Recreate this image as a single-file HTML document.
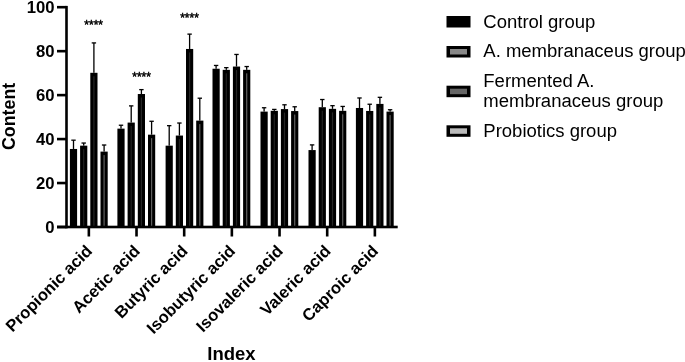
<!DOCTYPE html>
<html><head><meta charset="utf-8"><title>chart</title>
<style>
html,body{margin:0;padding:0;background:#fff;}
body{width:685px;height:362px;position:relative;overflow:hidden;font-family:"Liberation Sans",sans-serif;}
text{font-family:"Liberation Sans",sans-serif;fill:#000;}
.b{font-weight:bold;}
.r{font-weight:normal;}
</style></head><body>
<svg width="685" height="362" viewBox="0 0 685 362" style="position:absolute;left:0;top:0;filter:blur(0.45px)">
<rect width="685" height="362" fill="#fff"/>
<rect x="72.85" y="140.18" width="1.3" height="8.79" fill="#000"/>
<rect x="71.30" y="139.53" width="4.4" height="1.3" fill="#000"/>
<rect x="69.90" y="148.97" width="7.2" height="78.03" fill="#000"/>
<rect x="83.05" y="143.04" width="1.3" height="2.64" fill="#000"/>
<rect x="81.50" y="142.39" width="4.4" height="1.3" fill="#000"/>
<rect x="80.10" y="145.67" width="7.2" height="81.33" fill="#000"/>
<rect x="83.10" y="149.17" width="1.20" height="76.83" fill="#222"/>
<rect x="93.25" y="42.92" width="1.3" height="29.89" fill="#000"/>
<rect x="91.70" y="42.27" width="4.4" height="1.3" fill="#000"/>
<rect x="90.30" y="72.81" width="7.2" height="154.19" fill="#000"/>
<rect x="93.30" y="76.31" width="1.20" height="149.69" fill="#262626"/>
<rect x="103.45" y="145.01" width="1.3" height="6.59" fill="#000"/>
<rect x="101.90" y="144.36" width="4.4" height="1.3" fill="#000"/>
<rect x="100.50" y="151.61" width="7.2" height="75.39" fill="#000"/>
<rect x="103.50" y="155.11" width="1.20" height="70.89" fill="#606060"/>
<rect x="120.35" y="125.23" width="1.3" height="3.41" fill="#000"/>
<rect x="118.80" y="124.58" width="4.4" height="1.3" fill="#000"/>
<rect x="117.40" y="128.64" width="7.2" height="98.36" fill="#000"/>
<rect x="130.55" y="105.89" width="1.3" height="16.70" fill="#000"/>
<rect x="129.00" y="105.24" width="4.4" height="1.3" fill="#000"/>
<rect x="127.60" y="122.59" width="7.2" height="104.41" fill="#000"/>
<rect x="130.60" y="126.09" width="1.20" height="99.91" fill="#222"/>
<rect x="140.75" y="89.62" width="1.3" height="4.40" fill="#000"/>
<rect x="139.20" y="88.97" width="4.4" height="1.3" fill="#000"/>
<rect x="137.80" y="94.02" width="7.2" height="132.98" fill="#000"/>
<rect x="140.80" y="97.52" width="1.20" height="128.48" fill="#262626"/>
<rect x="150.95" y="121.28" width="1.3" height="13.41" fill="#000"/>
<rect x="149.40" y="120.63" width="4.4" height="1.3" fill="#000"/>
<rect x="148.00" y="134.68" width="7.2" height="92.32" fill="#000"/>
<rect x="151.00" y="138.18" width="1.20" height="87.82" fill="#606060"/>
<rect x="168.55" y="125.67" width="1.3" height="20.00" fill="#000"/>
<rect x="167.00" y="125.02" width="4.4" height="1.3" fill="#000"/>
<rect x="165.60" y="145.67" width="7.2" height="81.33" fill="#000"/>
<rect x="178.75" y="123.03" width="1.3" height="12.53" fill="#000"/>
<rect x="177.20" y="122.38" width="4.4" height="1.3" fill="#000"/>
<rect x="175.80" y="135.56" width="7.2" height="91.44" fill="#000"/>
<rect x="178.80" y="139.06" width="1.20" height="86.94" fill="#222"/>
<rect x="188.95" y="34.13" width="1.3" height="14.84" fill="#000"/>
<rect x="187.40" y="33.48" width="4.4" height="1.3" fill="#000"/>
<rect x="186.00" y="48.96" width="7.2" height="178.04" fill="#000"/>
<rect x="189.00" y="52.46" width="1.20" height="173.54" fill="#262626"/>
<rect x="199.15" y="98.20" width="1.3" height="22.42" fill="#000"/>
<rect x="197.60" y="97.55" width="4.4" height="1.3" fill="#000"/>
<rect x="196.20" y="120.62" width="7.2" height="106.38" fill="#000"/>
<rect x="199.20" y="124.12" width="1.20" height="101.88" fill="#606060"/>
<rect x="215.45" y="65.45" width="1.3" height="3.30" fill="#000"/>
<rect x="213.90" y="64.80" width="4.4" height="1.3" fill="#000"/>
<rect x="212.50" y="68.74" width="7.2" height="158.26" fill="#000"/>
<rect x="225.65" y="67.65" width="1.3" height="2.20" fill="#000"/>
<rect x="224.10" y="67.00" width="4.4" height="1.3" fill="#000"/>
<rect x="222.70" y="69.84" width="7.2" height="157.16" fill="#000"/>
<rect x="225.70" y="73.34" width="1.20" height="152.66" fill="#222"/>
<rect x="235.85" y="54.46" width="1.3" height="12.09" fill="#000"/>
<rect x="234.30" y="53.81" width="4.4" height="1.3" fill="#000"/>
<rect x="232.90" y="66.55" width="7.2" height="160.45" fill="#000"/>
<rect x="235.90" y="70.05" width="1.20" height="155.95" fill="#262626"/>
<rect x="246.05" y="66.55" width="1.3" height="3.30" fill="#000"/>
<rect x="244.50" y="65.90" width="4.4" height="1.3" fill="#000"/>
<rect x="243.10" y="69.84" width="7.2" height="157.16" fill="#000"/>
<rect x="246.10" y="73.34" width="1.20" height="152.66" fill="#606060"/>
<rect x="263.45" y="107.76" width="1.3" height="3.85" fill="#000"/>
<rect x="261.90" y="107.11" width="4.4" height="1.3" fill="#000"/>
<rect x="260.50" y="111.61" width="7.2" height="115.39" fill="#000"/>
<rect x="273.65" y="109.41" width="1.3" height="1.43" fill="#000"/>
<rect x="272.10" y="108.76" width="4.4" height="1.3" fill="#000"/>
<rect x="270.70" y="110.84" width="7.2" height="116.16" fill="#000"/>
<rect x="273.70" y="114.34" width="1.20" height="111.66" fill="#222"/>
<rect x="283.85" y="104.79" width="1.3" height="4.29" fill="#000"/>
<rect x="282.30" y="104.14" width="4.4" height="1.3" fill="#000"/>
<rect x="280.90" y="109.08" width="7.2" height="117.92" fill="#000"/>
<rect x="283.90" y="112.58" width="1.20" height="113.42" fill="#262626"/>
<rect x="294.05" y="106.77" width="1.3" height="4.29" fill="#000"/>
<rect x="292.50" y="106.12" width="4.4" height="1.3" fill="#000"/>
<rect x="291.10" y="111.06" width="7.2" height="115.94" fill="#000"/>
<rect x="294.10" y="114.56" width="1.20" height="111.44" fill="#606060"/>
<rect x="311.45" y="144.90" width="1.3" height="5.17" fill="#000"/>
<rect x="309.90" y="144.25" width="4.4" height="1.3" fill="#000"/>
<rect x="308.50" y="150.07" width="7.2" height="76.93" fill="#000"/>
<rect x="321.65" y="99.52" width="1.3" height="7.69" fill="#000"/>
<rect x="320.10" y="98.87" width="4.4" height="1.3" fill="#000"/>
<rect x="318.70" y="107.21" width="7.2" height="119.79" fill="#000"/>
<rect x="321.70" y="110.71" width="1.20" height="115.29" fill="#222"/>
<rect x="331.85" y="105.67" width="1.3" height="3.19" fill="#000"/>
<rect x="330.30" y="105.02" width="4.4" height="1.3" fill="#000"/>
<rect x="328.90" y="108.86" width="7.2" height="118.14" fill="#000"/>
<rect x="331.90" y="112.36" width="1.20" height="113.64" fill="#262626"/>
<rect x="342.05" y="106.44" width="1.3" height="4.40" fill="#000"/>
<rect x="340.50" y="105.79" width="4.4" height="1.3" fill="#000"/>
<rect x="339.10" y="110.84" width="7.2" height="116.16" fill="#000"/>
<rect x="342.10" y="114.34" width="1.20" height="111.66" fill="#606060"/>
<rect x="358.85" y="97.98" width="1.3" height="10.00" fill="#000"/>
<rect x="357.30" y="97.33" width="4.4" height="1.3" fill="#000"/>
<rect x="355.90" y="107.98" width="7.2" height="119.02" fill="#000"/>
<rect x="369.05" y="104.24" width="1.3" height="6.70" fill="#000"/>
<rect x="367.50" y="103.59" width="4.4" height="1.3" fill="#000"/>
<rect x="366.10" y="110.95" width="7.2" height="116.05" fill="#000"/>
<rect x="369.10" y="114.45" width="1.20" height="111.55" fill="#222"/>
<rect x="379.25" y="97.32" width="1.3" height="6.59" fill="#000"/>
<rect x="377.70" y="96.67" width="4.4" height="1.3" fill="#000"/>
<rect x="376.30" y="103.91" width="7.2" height="123.09" fill="#000"/>
<rect x="379.30" y="107.41" width="1.20" height="118.59" fill="#262626"/>
<rect x="389.45" y="109.74" width="1.3" height="1.87" fill="#000"/>
<rect x="387.90" y="109.09" width="4.4" height="1.3" fill="#000"/>
<rect x="386.50" y="111.61" width="7.2" height="115.39" fill="#000"/>
<rect x="389.50" y="115.11" width="1.20" height="110.89" fill="#606060"/>
<rect x="65.2" y="5.90" width="2.6" height="222.40" fill="#000"/>
<rect x="57" y="225.7" width="340.7" height="2.6" fill="#000"/>
<rect x="57" y="225.70" width="9.5" height="2.6" fill="#000"/>
<text x="54.6" y="232.90" text-anchor="end" class="b" font-size="16.7">0</text>
<rect x="57" y="181.74" width="9.5" height="2.6" fill="#000"/>
<text x="54.6" y="188.94" text-anchor="end" class="b" font-size="16.7">20</text>
<rect x="57" y="137.78" width="9.5" height="2.6" fill="#000"/>
<text x="54.6" y="144.98" text-anchor="end" class="b" font-size="16.7">40</text>
<rect x="57" y="93.82" width="9.5" height="2.6" fill="#000"/>
<text x="54.6" y="101.02" text-anchor="end" class="b" font-size="16.7">60</text>
<rect x="57" y="49.86" width="9.5" height="2.6" fill="#000"/>
<text x="54.6" y="57.06" text-anchor="end" class="b" font-size="16.7">80</text>
<rect x="57" y="5.90" width="9.5" height="2.6" fill="#000"/>
<text x="54.6" y="13.10" text-anchor="end" class="b" font-size="16.7">100</text>
<rect x="87.55" y="227.0" width="2.6" height="9.5" fill="#000"/>
<text transform="translate(93.25,252.0) rotate(-45)" text-anchor="end" class="b" font-size="16.6">Propionic acid</text>
<rect x="135.22" y="227.0" width="2.6" height="9.5" fill="#000"/>
<text transform="translate(140.92,252.0) rotate(-45)" text-anchor="end" class="b" font-size="16.6">Acetic acid</text>
<rect x="182.89" y="227.0" width="2.6" height="9.5" fill="#000"/>
<text transform="translate(188.59,252.0) rotate(-45)" text-anchor="end" class="b" font-size="16.6">Butyric acid</text>
<rect x="230.56" y="227.0" width="2.6" height="9.5" fill="#000"/>
<text transform="translate(236.26,252.0) rotate(-45)" text-anchor="end" class="b" font-size="16.6">Isobutyric acid</text>
<rect x="278.23" y="227.0" width="2.6" height="9.5" fill="#000"/>
<text transform="translate(283.93,252.0) rotate(-45)" text-anchor="end" class="b" font-size="16.6">Isovaleric acid</text>
<rect x="325.90" y="227.0" width="2.6" height="9.5" fill="#000"/>
<text transform="translate(331.60,252.0) rotate(-45)" text-anchor="end" class="b" font-size="16.6">Valeric acid</text>
<rect x="373.57" y="227.0" width="2.6" height="9.5" fill="#000"/>
<text transform="translate(379.27,252.0) rotate(-45)" text-anchor="end" class="b" font-size="16.6">Caproic acid</text>
<text x="93.65" y="29.16" text-anchor="middle" font-size="12" class="r" stroke="#000" stroke-width="0.45">****</text>
<text x="141.6" y="81.26" text-anchor="middle" font-size="12" class="r" stroke="#000" stroke-width="0.45">****</text>
<text x="189.5" y="21.86" text-anchor="middle" font-size="12" class="r" stroke="#000" stroke-width="0.45">****</text>
<text transform="translate(14.8,116.4) rotate(-90)" text-anchor="middle" class="b" font-size="17.8">Content</text>
<text transform="translate(231.4,360) scale(1.04,1)" text-anchor="middle" class="b" font-size="17.8">Index</text>
<rect x="446.5" y="16" width="24" height="11.5" fill="#000"/>
<text transform="translate(483.3,27.5) scale(1.028,1)" class="r" font-size="18">Control group</text>
<rect x="446.5" y="46" width="24" height="11.5" fill="#000"/>
<rect x="450" y="49" width="17" height="5.5" fill="#888"/>
<text transform="translate(483.3,57.4) scale(1.028,1)" class="r" font-size="18">A. membranaceus group</text>
<rect x="446.5" y="85.7" width="24" height="11.5" fill="#000"/>
<rect x="450" y="88.7" width="17" height="5.5" fill="#666"/>
<text transform="translate(483.3,86.8) scale(1.028,1)" class="r" font-size="18">Fermented A.</text>
<text transform="translate(483.3,107.1) scale(1.028,1)" class="r" font-size="18">membranaceus group</text>
<rect x="446.5" y="125.3" width="24" height="11.5" fill="#000"/>
<rect x="450" y="128.3" width="17" height="5.5" fill="#bbb"/>
<text transform="translate(483.3,136.9) scale(1.028,1)" class="r" font-size="18">Probiotics group</text>
</svg>
</body></html>
